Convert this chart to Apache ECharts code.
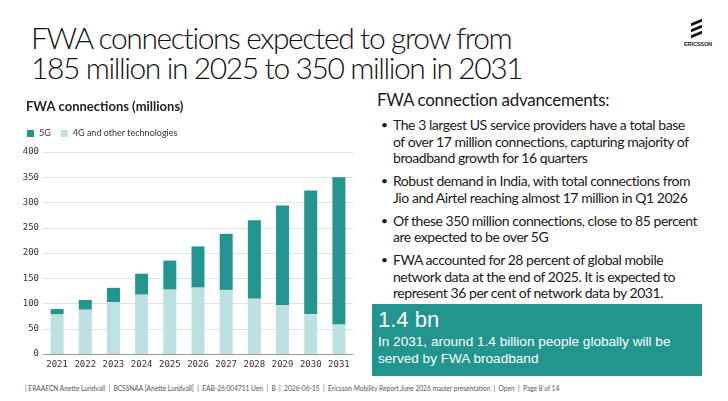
<!DOCTYPE html>
<html>
<head>
<meta charset="utf-8">
<script src="https://cdn.jsdelivr.net/npm/echarts@6/dist/echarts.min.js"></script>
<style>
  html, body { margin: 0; padding: 0; background: #fff; }
  body { width: 728px; height: 401px; position: relative; overflow: hidden; font-family: Lato, "Noto Sans", sans-serif; color: #1a1a1a; }
  .title { position: absolute; left: 31px; top: 22px; font-size: 30px; font-weight: 300; line-height: 30px; letter-spacing: -1.4px; color: #111; }
  .logo { position: absolute; left: 682px; top: 19px; width: 32px; text-align: center; }
  .logo .bars { position: relative; height: 18px; }
  .logo .bars i { position: absolute; left: 9px; width: 11px; height: 3.4px; background: #111; transform: skewY(-22deg); }
  .logo .cap { font-family: "Liberation Sans", sans-serif; font-weight: bold; font-size: 5.5px; letter-spacing: -0.1px; margin-top: 4px; }
  .side { position: absolute; left: 377px; top: 89px; width: 340px; }
  .side h3 { margin: 0 0 6px 0; font-weight: 400; font-size: 17px; line-height: 22px; letter-spacing: -0.3px; }
  .side ul { margin: 0; padding: 0 0 0 16px; list-style: none; }
  .side li { position: relative; font-size: 14px; line-height: 16.7px; margin-bottom: 6px; letter-spacing: -0.45px; white-space: nowrap; }
  .side li:before { content: "\2022"; position: absolute; left: -12px; font-size: 12px; }
  .box { position: absolute; left: 372px; top: 304px; width: 330px; height: 72px; background: #22958f; color: #fff; font-family: "Liberation Sans", Arial, sans-serif; }
  .box .big { position: absolute; left: 6px; top: 3px; font-size: 22px; line-height: 25px; }
  .box .txt { position: absolute; left: 6px; top: 29px; font-size: 13.6px; line-height: 17px; }
  .foot { position: absolute; left: 25px; top: 384px; font-size: 6.6px; color: #555; white-space: nowrap; }
  #chart { position: absolute; left: 0; top: 90px; width: 370px; height: 285px; }
</style>
</head>
<body>
<div class="title">FWA connections expected to grow from<br>185 million in 2025 to 350 million in 2031</div>
<div class="logo">
  <div class="bars"><i style="top:2px"></i><i style="top:8px"></i><i style="top:14px"></i></div>
  <div class="cap">ERICSSON</div>
</div>
<div id="chart"></div>
<div class="side">
  <h3>FWA connection advancements:</h3>
  <ul>
    <li>The 3 largest US service providers have a total base<br>of over 17 million connections, capturing majority of<br>broadband growth for 16 quarters</li>
    <li>Robust demand in India, with total connections from<br>Jio and Airtel reaching almost 17 million in Q1 2026</li>
    <li>Of these 350 million connections, close to 85 percent<br>are expected to be over 5G</li>
    <li>FWA accounted for 28 percent of global mobile<br>network data at the end of 2025. It is expected to<br>represent 36 per cent of network data by 2031.</li>
  </ul>
</div>
<div class="box">
  <div class="big">1.4 bn</div>
  <div class="txt">In 2031, around 1.4 billion people globally will be<br>served by FWA broadband</div>
</div>
<div class="foot">| ERAAECN Anette Lundvall &nbsp;| &nbsp;BCSSNAA [Anette Lundvall] &nbsp;| &nbsp;EAB-26:004711 Uen &nbsp;| &nbsp;B &nbsp;| &nbsp;2026-06-15 &nbsp;| &nbsp;Ericsson Mobility Report June 2026 master presentation &nbsp;| &nbsp;Open &nbsp;| &nbsp;Page 8 of 14</div>
<script>
const years = ["2021", "2022", "2023", "2024", "2025", "2026", "2027", "2028", "2029", "2030", "2031"];
const other = [79, 88, 103, 118, 128, 132, 127, 110, 97, 79, 59];
const fiveG = [10, 19, 28, 41, 57, 81, 111, 155, 197, 245, 291];
const yTicks = [0, 50, 100, 150, 200, 250, 300, 350, 400];

const chart = echarts.init(document.getElementById("chart"), null, { renderer: "canvas" });
const mono = "'DejaVu Sans Mono', monospace";
chart.setOption({
  animation: false,
  title: {
    text: "FWA connections (millions)",
    left: 26, top: 10, padding: 0,
    textStyle: { fontFamily: "Lato", fontWeight: 700, fontSize: 13, color: "#222" },
  },
  legend: {
    left: 27, top: 39, padding: 0,
    itemWidth: 7, itemHeight: 7, itemGap: 10,
    icon: "rect",
    textStyle: { fontFamily: "Lato", fontSize: 9, color: "#333" },
    data: ["5G", "4G and other technologies"],
  },
  grid: { left: 43, right: 17, top: 62, bottom: 21 },
  xAxis: {
    type: "category",
    data: years,
    axisTick: { show: false },
    axisLine: { lineStyle: { color: "#999", width: 1 } },
    axisLabel: { fontFamily: mono, fontSize: 9, color: "#333", margin: 6 },
  },
  yAxis: {
    type: "value",
    min: yTicks[0], max: yTicks[yTicks.length - 1], interval: 50,
    axisLine: { show: false },
    axisTick: { show: false },
    axisLabel: { fontFamily: mono, fontSize: 9, color: "#333", margin: 4 },
    splitLine: { lineStyle: { color: "#e2e2e2", width: 1 } },
  },
  series: [
    {
      name: "4G and other technologies", type: "bar", stack: "t", data: other,
      barWidth: 13, itemStyle: { color: "#bde0e0" },
    },
    {
      name: "5G", type: "bar", stack: "t", data: fiveG,
      barWidth: 13, itemStyle: { color: "#22958f" },
    },
  ],
});
</script>
</body>
</html>
